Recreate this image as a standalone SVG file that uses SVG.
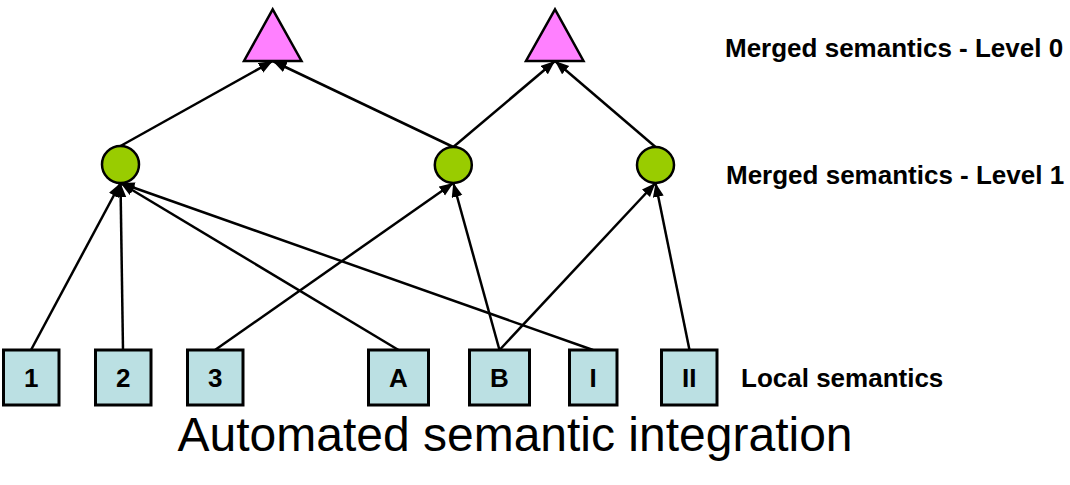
<svg xmlns="http://www.w3.org/2000/svg" width="1070" height="485" viewBox="0 0 1070 485">
<style>
.tri{fill:#FF80FF;stroke:#000;stroke-width:2.5;stroke-linejoin:miter}
.cir{fill:#99CC00;stroke:#000;stroke-width:2.5}
.box{fill:#BBE0E3;stroke:#000;stroke-width:3}
.lbl{font-family:"Liberation Sans",Arial,sans-serif;font-weight:bold;font-size:26px;fill:#000}
.blbl{font-family:"Liberation Sans",Arial,sans-serif;font-weight:bold;font-size:26px;fill:#000;text-anchor:middle}
.title{font-family:"Liberation Sans",Arial,sans-serif;font-size:48px;fill:#000;text-anchor:middle}
.edge{stroke:#000;stroke-width:2.5;fill:none;marker-end:url(#ah)}
</style>
<defs>
<marker id="ah" markerUnits="userSpaceOnUse" markerWidth="15" markerHeight="13" refX="14" refY="5.5" orient="auto">
<path d="M0,0 L14,5.5 L0,11 z" fill="#000"/>
</marker>
</defs>
<rect width="1070" height="485" fill="#fff"/>
<g id="connectors">
<line class="edge" x1="120.5" y1="146" x2="272.7" y2="61"/>
<line class="edge" x1="453.3" y1="147" x2="272.7" y2="61"/>
<line class="edge" x1="453.3" y1="147" x2="555" y2="61"/>
<line class="edge" x1="655.5" y1="147" x2="555" y2="61"/>
<line class="edge" x1="31" y1="350" x2="120.5" y2="183"/>
<line class="edge" x1="123" y1="350" x2="120.5" y2="183"/>
<line class="edge" x1="398.5" y1="350" x2="120.5" y2="183"/>
<line class="edge" x1="593" y1="350" x2="120.5" y2="183"/>
<line class="edge" x1="215" y1="350" x2="453.3" y2="183"/>
<line class="edge" x1="499.5" y1="350" x2="453.3" y2="183"/>
<line class="edge" x1="499.5" y1="350" x2="655.5" y2="183"/>
<line class="edge" x1="689.5" y1="350" x2="655.5" y2="183"/>
</g>
<g id="t1"><polygon class="tri" points="272.7,9.3 301.5,61 244,61"/></g>
<g id="t2"><polygon class="tri" points="555,9.3 583.5,61 526,61"/></g>
<g id="c1"><ellipse class="cir" cx="120.5" cy="164.5" rx="18.5" ry="18.5"/></g>
<g id="c2"><ellipse class="cir" cx="453.3" cy="165" rx="18.5" ry="18"/></g>
<g id="c3"><ellipse class="cir" cx="655.5" cy="165" rx="18.5" ry="18"/></g>
<g id="b1"><rect class="box" x="3.5" y="350" width="55.5" height="55"/><text class="blbl" x="31.2" y="387">1</text></g>
<g id="b2"><rect class="box" x="95.5" y="350" width="55.5" height="55"/><text class="blbl" x="123.2" y="387">2</text></g>
<g id="b3"><rect class="box" x="187.5" y="350" width="55.5" height="55"/><text class="blbl" x="215.2" y="387">3</text></g>
<g id="bA"><rect class="box" x="368.5" y="350" width="60" height="55"/><text class="blbl" x="398.5" y="387">A</text></g>
<g id="bB"><rect class="box" x="469.5" y="350" width="60" height="55"/><text class="blbl" x="499.5" y="387">B</text></g>
<g id="bI"><rect class="box" x="569.5" y="350" width="47.5" height="55"/><text class="blbl" x="593.2" y="387">I</text></g>
<g id="bII"><rect class="box" x="661.5" y="350" width="55.5" height="55"/><text class="blbl" x="689.2" y="387">II</text></g>
<g id="labels">
<text class="lbl" x="725" y="57">Merged semantics - Level 0</text>
<text class="lbl" x="726" y="184">Merged semantics - Level 1</text>
<text class="lbl" x="741" y="387">Local semantics</text>
<text class="title" x="515" y="451">Automated semantic integration</text>
</g>
</svg>
